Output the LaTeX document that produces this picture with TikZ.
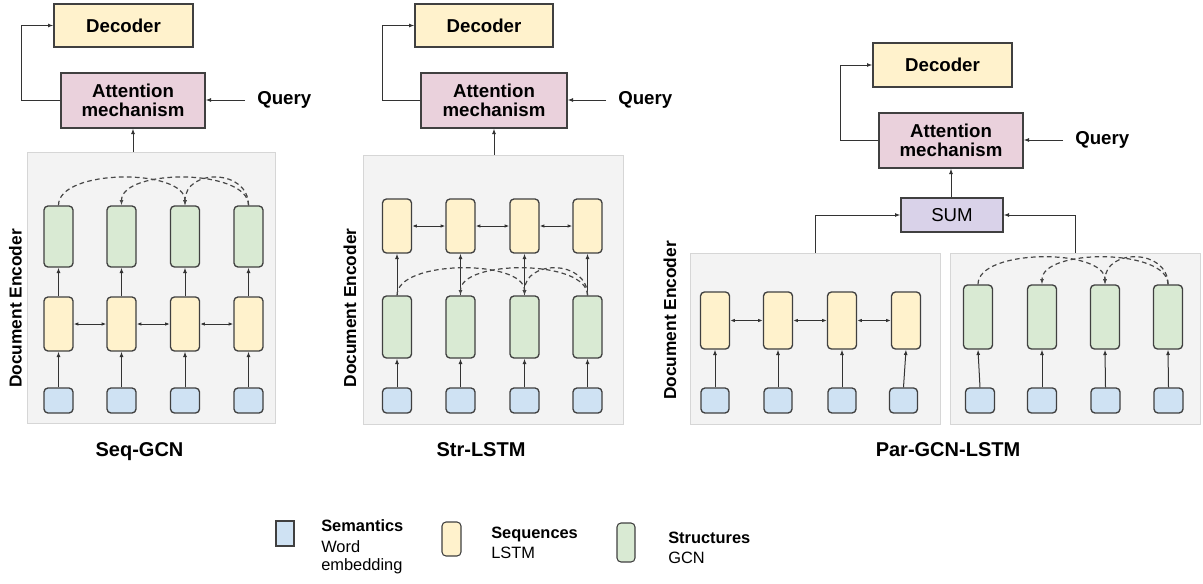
\documentclass[tikz,border=0pt]{standalone}
\usepackage{fontspec}
\setmainfont{Liberation Sans}
\usetikzlibrary{arrows.meta}
\definecolor{bdr}{HTML}{404040}
\definecolor{arrc}{HTML}{333333}
\definecolor{decc}{HTML}{FFF2CC}
\definecolor{attc}{HTML}{EAD1DC}
\definecolor{sumc}{HTML}{D9D2E9}
\definecolor{lstmc}{HTML}{FFF2CC}
\definecolor{gcnc}{HTML}{D9EAD3}
\definecolor{embc}{HTML}{CFE2F3}
\definecolor{panc}{HTML}{F3F3F3}
\definecolor{panb}{HTML}{D6D6D6}
\def\pxu{0.75pt}
\newcommand\bxfont{\fontsize{14}{14.6}\selectfont\bfseries}
\newcommand\ttlfont{\fontsize{15}{18}\selectfont\bfseries}
\newcommand\encfont{\fontsize{13}{15}\selectfont\bfseries}
\newcommand\lgfont{\fontsize{12.3}{14}\selectfont}
\begin{document}
\begin{tikzpicture}[x=0.75pt,y=-0.75pt,
  panel/.style={fill=panc, draw=panb, line width=0.6pt, inner sep=0pt},
  box/.style={draw=bdr, line width=1pt, inner sep=0pt, font=\bxfont, align=center},
  cell/.style={draw=bdr, line width=1pt, rounded corners=3pt, inner sep=0pt},
  cellY/.style={cell, fill=lstmc, minimum width=29*\pxu, minimum height=#1*\pxu},
  cellG/.style={cell, fill=gcnc, minimum width=29*\pxu, minimum height=#1*\pxu},
  cellB/.style={cell, fill=embc, minimum width=29*\pxu, minimum height=25*\pxu},
  qlbl/.style={font=\bxfont, inner sep=0pt},
  enclbl/.style={font=\encfont, rotate=90, inner sep=0pt},
  ttl/.style={font=\ttlfont, inner sep=0pt, anchor=base},
  lg/.style={font=\lgfont, inner sep=0pt, anchor=base west},
  arr/.style={-{Latex[length=4pt,width=3pt]}, line width=0.75pt, draw=arrc},
  darr/.style={{Latex[length=3.5pt,width=2.6pt]}-{Latex[length=3.5pt,width=2.6pt]}, line width=0.7pt, draw=arrc},
  darc/.style={-{Latex[length=4pt,width=3pt]}, line width=0.9pt, draw=arrc!90, dash pattern=on 3.5pt off 2.5pt}
]
\useasboundingbox (0,0) rectangle (1203,583);

%%%%%%%%%%%%%%%% Panel 1: Seq-GCN
\node[panel, minimum width=248*\pxu, minimum height=271*\pxu] (P1) at (151,287.5) {};
\node[box, fill=decc, minimum width=139*\pxu, minimum height=43*\pxu] (D1) at (123.5,25.5) {Decoder};
\node[box, fill=attc, minimum width=144*\pxu, minimum height=55*\pxu] (A1) at (133,100.5) {Attention\\mechanism};
\node[qlbl, anchor=west] (Q1) at (257,100) {Query};
\draw[arr, shorten <=9pt] (Q1.west) -- (A1.east |- Q1.west);
\draw[arr] (A1.west) -- ++(-39,0) |- (D1.west);
\draw[arr] (P1.north -| A1.south) -- (A1.south);
\foreach \i/\x in {1/58.5,2/121.5,3/185,4/248.5}{
  \node[cellG=61] (G1\i) at (\x,236.5) {};
  \node[cellY=54] (Y1\i) at (\x,324) {};
  \node[cellB] (B1\i) at (\x,400.5) {};
  \draw[arr] (B1\i) -- (Y1\i);
  \draw[arr] (Y1\i) -- (G1\i);
}
\foreach \i/\j in {1/2,2/3,3/4}{\draw[darr] (Y1\i) -- (Y1\j);}
\draw[darc] (G11.north) .. controls +(0,-37) and +(0,-37) .. (G13.north);
\draw[darc] (G14.north) .. controls +(0,-37) and +(0,-37) .. (G12.north);
\draw[darc] (G14.north) .. controls +(0,-37) and +(0,-37) .. (G13.north);
\node[enclbl] (E1) at (15.5,308.5) {Document Encoder};
\node[ttl] (T1) at (139.5,456) {Seq-GCN};

%%%%%%%%%%%%%%%% Panel 2: Str-LSTM
\node[panel, minimum width=260*\pxu, minimum height=269*\pxu] (P2) at (493,289.5) {};
\node[box, fill=decc, minimum width=138*\pxu, minimum height=43*\pxu] (D2) at (484,25.5) {Decoder};
\node[box, fill=attc, minimum width=146*\pxu, minimum height=55*\pxu] (A2) at (494,100.5) {Attention\\mechanism};
\node[qlbl, anchor=west] (Q2) at (618,100) {Query};
\draw[arr, shorten <=9pt] (Q2.west) -- (A2.east |- Q2.west);
\draw[arr] (A2.west) -- ++(-38,0) |- (D2.west);
\draw[arr] (P2.north -| A2.south) -- (A2.south);
\foreach \i/\x in {1/397,2/460.5,3/524.5,4/587.5}{
  \node[cellY=54] (Y2\i) at (\x,226) {};
  \node[cellG=62] (G2\i) at (\x,327) {};
  \node[cellB] (B2\i) at (\x,400.5) {};
  \draw[arr] (B2\i) -- (G2\i);
  \draw[arr] (G2\i) -- (Y2\i);
}
\foreach \i/\j in {1/2,2/3,3/4}{\draw[darr] (Y2\i) -- (Y2\j);}
\draw[darc] (G21.north) .. controls +(0,-36) and +(0,-36) .. (G23.north);
\draw[darc] (G24.north) .. controls +(0,-36) and +(0,-36) .. (G22.north);
\draw[darc] (G24.north) .. controls +(0,-36) and +(0,-36) .. (G23.north);
\node[enclbl] (E2) at (350,308) {Document Encoder};
\node[ttl] (T2) at (481,456) {Str-LSTM};

%%%%%%%%%%%%%%%% Panel 3: Par-GCN-LSTM
\node[panel, minimum width=250*\pxu, minimum height=171*\pxu] (P3L) at (815,338.5) {};
\node[panel, minimum width=250*\pxu, minimum height=171*\pxu] (P3R) at (1075,338.5) {};
\node[box, fill=decc, minimum width=139*\pxu, minimum height=44*\pxu] (D3) at (942.5,65) {Decoder};
\node[box, fill=attc, minimum width=144*\pxu, minimum height=55*\pxu] (A3) at (951,140.5) {Attention\\mechanism};
\node[qlbl, anchor=west] (Q3) at (1075,140) {Query};
\draw[arr, shorten <=9pt] (Q3.west) -- (A3.east |- Q3.west);
\draw[arr] (A3.west) -- ++(-38,0) |- (D3.west);
\node[box, fill=sumc, minimum width=102*\pxu, minimum height=34*\pxu, font=\fontsize{14}{16}\selectfont] (S3) at (952,215) {SUM};
\draw[arr] (S3.north -| A3.south) -- (A3.south);
\draw[arr] (P3L.north) |- (S3.west);
\draw[arr] (P3R.north) |- (S3.east);
\foreach \i/\x/\bx in {1/715/715,2/778/778,3/842/842,4/906/903.5}{
  \node[cellY=57] (Y3\i) at (\x,320.5) {};
  \node[cellB, minimum width=28*\pxu] (B3\i) at (\bx,400.5) {};
  \draw[arr] (B3\i.north) -- (Y3\i.south);
}
\foreach \i/\j in {1/2,2/3,3/4}{\draw[darr] (Y3\i) -- (Y3\j);}
\foreach \i/\x/\bx in {1/978/980,2/1042/1042,3/1105/1105.5,4/1168/1168.5}{
  \node[cellG=64] (G3\i) at (\x,317) {};
  \node[cellB] (C3\i) at (\bx,400.5) {};
  \draw[arr] (C3\i.north) -- (G3\i.south);
}
\draw[darc] (G31.north) .. controls +(0,-36) and +(0,-36) .. (G33.north);
\draw[darc] (G34.north) .. controls +(0,-36) and +(0,-36) .. (G32.north);
\draw[darc] (G34.north) .. controls +(0,-36) and +(0,-36) .. (G33.north);
\node[enclbl] (E3) at (670,320.5) {Document Encoder};
\node[ttl] (T3) at (948,456) {Par-GCN-LSTM};

%%%%%%%%%%%%%%%% Legend
\node[draw=bdr, fill=embc, line width=0.8pt, inner sep=0pt, minimum width=18*\pxu, minimum height=25*\pxu] (LB) at (285,533.5) {};
\node[lg] (LB1) at (321,531) {\bfseries Semantics};
\node[lg] (LB2) at (321,552) {Word};
\node[lg] (LB3) at (321,570) {embedding};
\node[cell, line width=0.8pt, fill=lstmc, minimum width=19*\pxu, minimum height=34*\pxu] (LY) at (451.5,539) {};
\node[lg] (LY1) at (491,538) {\bfseries Sequences};
\node[lg] (LY2) at (491,558) {LSTM};
\node[cell, line width=0.8pt, fill=gcnc, minimum width=18*\pxu, minimum height=39*\pxu] (LG) at (626,542.5) {};
\node[lg] (LG1) at (668,543) {\bfseries Structures};
\node[lg] (LG2) at (668,563) {GCN};
\end{tikzpicture}
\end{document}
